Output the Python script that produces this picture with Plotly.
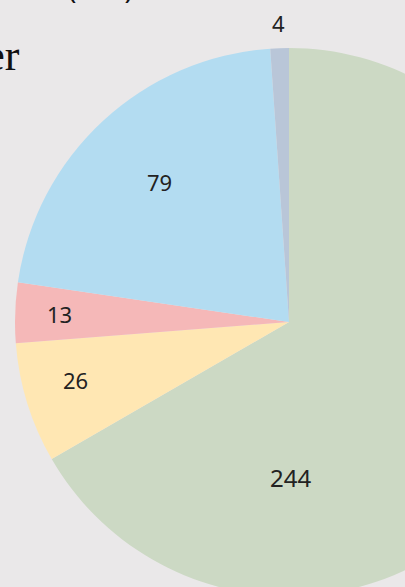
import math
import plotly.graph_objects as go

# Data
categories = ["A", "B", "C", "D", "E"]
values = [244, 26, 13, 79, 4]
colors = ["#CCD9C4", "#FFE7B3", "#F5B8B8", "#B3DCF1", "#B9C6D8"]

# Label placement (fraction of radius, optional angle override in degrees clockwise from 12 o'clock)
label_rfrac = [0.57, 0.815, 0.846, 0.70, 1.10]
label_angle_override = [179.5, 254.7, None, None, None]
label_size = [24, 22, 22, 22, 22]

W, H = 580, 600
BG = "#EAE8E9"
CX, CY, R = 289, 322, 272
LABEL_FONT = "Noto Sans, sans-serif"

fig = go.Figure(go.Pie(
    labels=categories,
    values=values,
    sort=False,
    direction="clockwise",
    rotation=0,
    marker=dict(colors=colors, line=dict(width=0)),
    textinfo="none",
    domain=dict(x=[(CX - R - 2) / W, (CX + R + 2) / W], y=[1 - (CY + R + 2) / H, 1 - (CY - R - 2) / H]),
    showlegend=False,
    hoverinfo="skip",
))

# value labels placed at slice angles derived from the data
total = sum(values)
cum = 0.0
for v, rf, ov, fs in zip(values, label_rfrac, label_angle_override, label_size):
    mid = (cum + v / 2) / total * 360.0
    cum += v
    ang = math.radians(ov if ov is not None else mid)
    px = CX + rf * R * math.sin(ang)
    py = CY - rf * R * math.cos(ang)
    fig.add_annotation(text=str(v), xref="paper", yref="paper", x=px / W, y=1 - py / H,
                       xanchor="center", yanchor="middle", showarrow=False,
                       font=dict(family=LABEL_FONT, size=fs, color="#222222"))

fig.add_annotation(text="Gender", xref="paper", yref="paper", x=22 / W, y=1 - 82 / H,
                   xanchor="right", yanchor="bottom", showarrow=False,
                   font=dict(family="Liberation Serif", size=44, color="#111111"))
fig.add_annotation(text="(276)", xref="paper", yref="paper", x=66 / W, y=1 - 9 / H,
                   xanchor="left", yanchor="bottom", showarrow=False,
                   font=dict(family="Noto Sans", size=28, color="#111111"))
fig.add_annotation(text="<b>Täterinnen und Täter</b>", xref="paper", yref="paper", x=22 / W, y=1 - 11 / H,
                   xanchor="right", yanchor="bottom", showarrow=False,
                   font=dict(family="Noto Sans", size=34, color="#111111"))

fig.update_layout(
    width=W, height=H,
    margin=dict(l=0, r=0, t=0, b=0),
    paper_bgcolor=BG, plot_bgcolor=BG,
)

fig.write_html("out.html", post_script="document.body.style.margin='0';document.body.style.overflow='hidden';document.documentElement.style.overflow='hidden';")
